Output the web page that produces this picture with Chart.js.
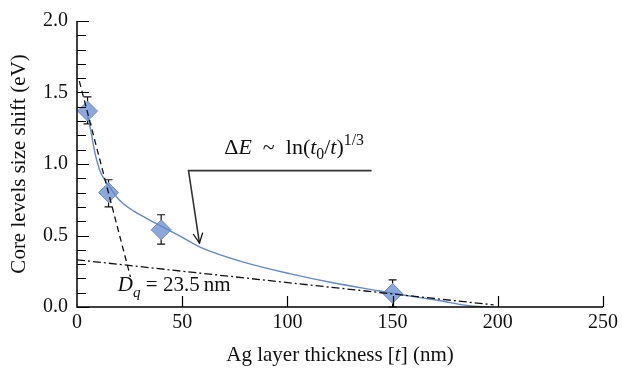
<!DOCTYPE html>
<html>
<head>
<meta charset="utf-8">
<script src="https://cdn.jsdelivr.net/npm/chart.js@4.4.0/dist/chart.umd.min.js"></script>
<style>
  html, body { margin: 0; padding: 0; background: #fff; }
  #wrap { width: 622px; height: 368px; }
</style>
</head>
<body>
<div id="wrap"><canvas id="chart"></canvas></div>
<script>
// measured points (t in nm, shift in eV)
const thickness = [5, 15, 40, 150];
const shift = [1.37, 0.80, 0.54, 0.095];
const errTop = [1.47, 0.89, 0.645, 0.19];
const errBottom = [1.28, 0.70, 0.44, 0.0];

// fitted curve
const fitT = [5, 6.2, 8.5, 11, 15, 20, 27, 33, 40, 49, 59, 80, 101, 121, 143, 155, 172, 186, 196];
const fitE = [1.34, 1.26, 1.08, 0.95, 0.85, 0.75, 0.67, 0.62, 0.565, 0.495, 0.415, 0.31, 0.233, 0.171, 0.114, 0.084, 0.045, 0.009, 0.0];

// construction lines
const dashT = [1.1, 25.4];
const dashE = [1.58, 0.21];
const dashDotT = [0, 198];
const dashDotE = [0.33, 0.015];
const arrowT = [140, 53, 58.2];
const arrowE = [0.954, 0.954, 0.447];

const xTicks = [0, 50, 100, 150, 200, 250];
const yTicks = [0.0, 0.5, 1.0, 1.5, 2.0];
const yMinor = 0.1;

const serif = '"Liberation Serif", "DejaVu Serif", serif';
const pts = (xs, ys) => xs.map((x, i) => ({ x: x, y: ys[i] }));

// draw pieces of text with mixed styles, left to right
function drawRuns(ctx, runs, x, y, size) {
  runs.forEach(r => {
    const s = r.small ? size * 0.72 : size;
    ctx.font = (r.italic ? 'italic ' : '') + s + 'px ' + serif;
    ctx.fillText(r.text, x, y + (r.dy || 0));
    x += ctx.measureText(r.text).width;
  });
}
function runsWidth(ctx, runs, size) {
  let w = 0;
  runs.forEach(r => {
    const s = r.small ? size * 0.72 : size;
    ctx.font = (r.italic ? 'italic ' : '') + s + 'px ' + serif;
    w += ctx.measureText(r.text).width;
  });
  return w;
}

const decor = {
  id: 'decor',
  beforeDatasetsDraw(chart) {
    const ctx = chart.ctx, xs = chart.scales.x, ys = chart.scales.y;
    // error bars
    ctx.save();
    ctx.strokeStyle = '#111';
    ctx.lineWidth = 1.2;
    thickness.forEach((t, i) => {
      const px = xs.getPixelForValue(t);
      const top = ys.getPixelForValue(errTop[i]);
      const bot = ys.getPixelForValue(errBottom[i]);
      ctx.beginPath();
      ctx.moveTo(px, top); ctx.lineTo(px, bot);
      ctx.moveTo(px - 4, top); ctx.lineTo(px + 4, top);
      ctx.moveTo(px - 4, bot); ctx.lineTo(px + 4, bot);
      ctx.stroke();
    });
    ctx.restore();
  },
  afterDatasetsDraw(chart) {
    const ctx = chart.ctx, xs = chart.scales.x, ys = chart.scales.y;
    const a = chart.chartArea;
    ctx.save();
    // axes
    ctx.strokeStyle = '#000';
    ctx.lineWidth = 1.5;
    ctx.beginPath();
    ctx.moveTo(a.left, a.top); ctx.lineTo(a.left, a.bottom); ctx.lineTo(a.right, a.bottom);
    ctx.stroke();
    ctx.lineWidth = 1.2;
    ctx.beginPath();
    for (let v = 0; v <= 2.0001; v += yMinor) {
      const py = Math.round(ys.getPixelForValue(v)) + 0.5;
      const major = Math.abs(v * 2 - Math.round(v * 2)) < 1e-6;
      ctx.moveTo(a.left, py); ctx.lineTo(a.left + (major ? 12 : 9), py);
    }
    xTicks.slice(1).forEach(v => {
      const px = Math.round(xs.getPixelForValue(v)) + 0.5;
      ctx.moveTo(px, a.bottom); ctx.lineTo(px, a.bottom - 11);
    });
    ctx.stroke();

    // arrow head
    const n = arrowT.length;
    const tx = xs.getPixelForValue(arrowT[n - 1]), ty = ys.getPixelForValue(arrowE[n - 1]);
    const fx = xs.getPixelForValue(arrowT[n - 2]), fy = ys.getPixelForValue(arrowE[n - 2]);
    const ang = Math.atan2(ty - fy, tx - fx);
    ctx.strokeStyle = '#111';
    ctx.lineWidth = 1.3;
    ctx.beginPath();
    ctx.moveTo(tx - 11 * Math.cos(ang - 0.45), ty - 11 * Math.sin(ang - 0.45));
    ctx.lineTo(tx, ty);
    ctx.lineTo(tx - 11 * Math.cos(ang + 0.45), ty - 11 * Math.sin(ang + 0.45));
    ctx.stroke();

    // annotations
    ctx.fillStyle = '#111';
    ctx.textAlign = 'left';
    ctx.textBaseline = 'alphabetic';
    drawRuns(ctx, [
      { text: '\u0394' }, { text: 'E', italic: true }, { text: '\u2002~\u2002ln(' },
      { text: 't', italic: true }, { text: '0', small: true, dy: 5 }, { text: '/' },
      { text: 't', italic: true }, { text: ')' }, { text: '1/3', small: true, dy: -9 }
    ], xs.getPixelForValue(70), ys.getPixelForValue(1.07), 22);
    drawRuns(ctx, [
      { text: 'D', italic: true }, { text: 'q', italic: true, small: true, dy: 6 },
      { text: ' = 23.5\u2009nm' }
    ], xs.getPixelForValue(19.4), ys.getPixelForValue(0.11), 21);

    // axis titles
    const xTitle = [{ text: 'Ag layer thickness [' }, { text: 't', italic: true }, { text: '] (nm)' }];
    const w = runsWidth(ctx, xTitle, 21);
    drawRuns(ctx, xTitle, (a.left + a.right) / 2 - w / 2, 361, 21);
    ctx.translate(19, (a.top + a.bottom) / 2);
    ctx.rotate(-Math.PI / 2);
    ctx.textAlign = 'center';
    ctx.textBaseline = 'middle';
    ctx.font = '21px ' + serif;
    ctx.fillText('Core levels size shift (eV)', 0, 0);
    ctx.restore();
  }
};

new Chart(document.getElementById('chart'), {
  type: 'scatter',
  data: {
    datasets: [
      {
        data: pts(dashT, dashE), showLine: true, borderColor: '#111', borderWidth: 1.3,
        borderDash: [6, 4], pointRadius: 0
      },
      {
        data: pts(dashDotT, dashDotE), showLine: true, borderColor: '#111', borderWidth: 1.3,
        borderDash: [8, 3, 2, 3], pointRadius: 0
      },
      {
        data: pts(arrowT, arrowE), showLine: true, borderColor: '#333', borderWidth: 1.6,
        pointRadius: 0
      },
      {
        data: pts(fitT, fitE), showLine: true, borderColor: '#6489c6', borderWidth: 1.4,
        cubicInterpolationMode: 'monotone', pointRadius: 0
      },
      {
        data: pts(thickness, shift), pointStyle: 'rectRot', pointRadius: 10,
        backgroundColor: '#8ca7d9', borderColor: '#6c8dc8', borderWidth: 1
      }
    ]
  },
  options: {
    responsive: true,
    maintainAspectRatio: false,
    animation: false,
    layout: { padding: { top: 16, right: 17, left: 0, bottom: 0 } },
    plugins: { legend: { display: false }, tooltip: { enabled: false } },
    scales: {
      x: {
        type: 'linear', min: 0, max: 250,
        afterBuildTicks: s => { s.ticks = xTicks.map(v => ({ value: v })); },
        afterFit: s => { s.height = 61; },
        grid: { display: false, drawTicks: false },
        border: { display: false },
        ticks: { color: '#111', padding: 4, font: { family: serif, size: 20 }, maxRotation: 0 }
      },
      y: {
        type: 'linear', min: 0, max: 2,
        afterBuildTicks: s => { s.ticks = yTicks.map(v => ({ value: v })); },
        afterFit: s => { s.width = 77; },
        grid: { display: false, drawTicks: false },
        border: { display: false },
        ticks: { color: '#111', padding: 9, font: { family: serif, size: 20 }, callback: v => v.toFixed(1) }
      }
    }
  },
  plugins: [decor]
});
</script>
</body>
</html>
